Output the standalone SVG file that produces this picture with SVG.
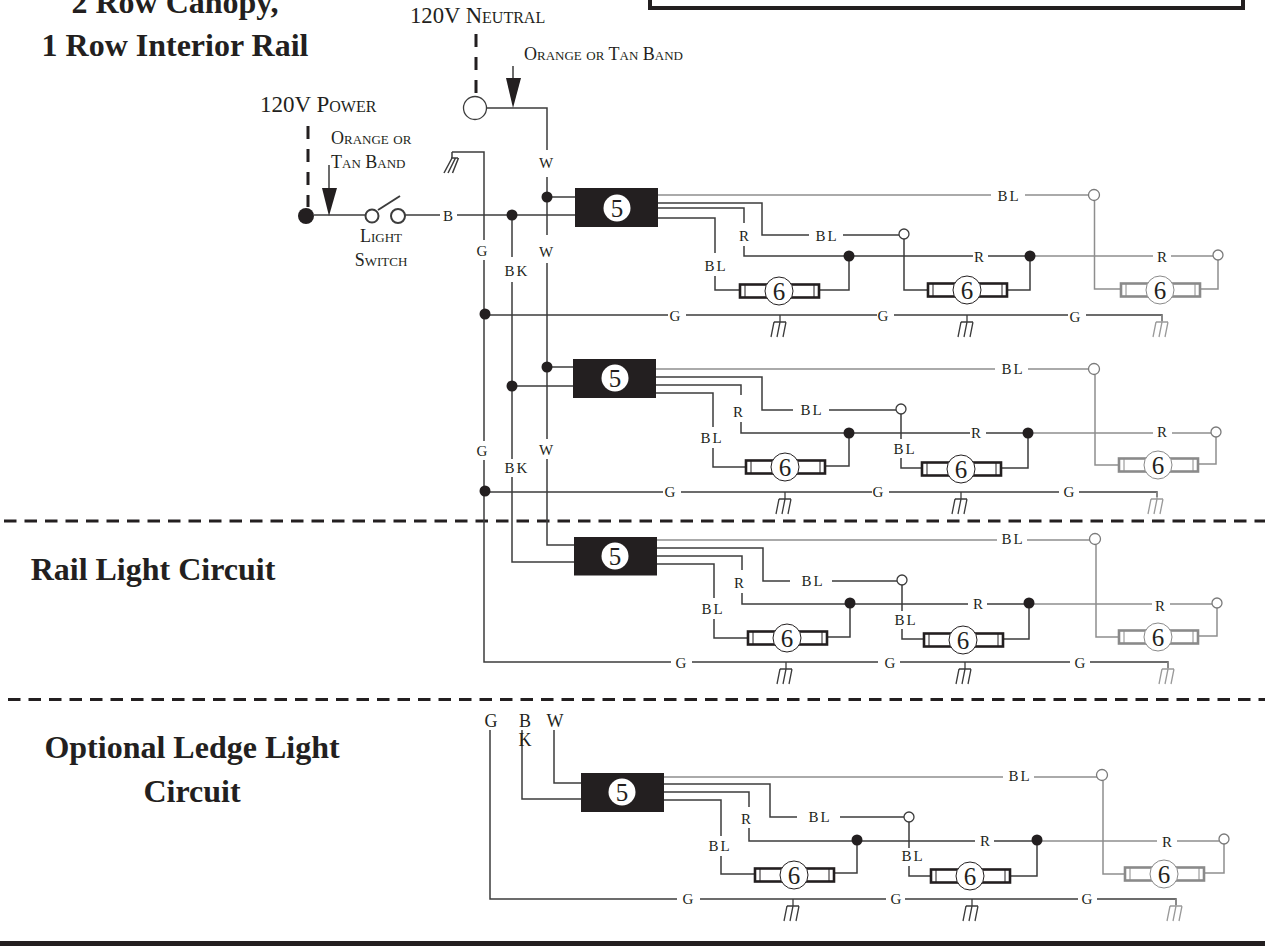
<svg xmlns="http://www.w3.org/2000/svg" width="1265" height="946" viewBox="0 0 1265 946">
<style>
text{font-family:"Liberation Serif","Times New Roman",serif;fill:#231f20}
.h{font-weight:bold;font-size:32px;text-anchor:middle}
.sc{font-variant:small-caps}
.l{font-size:15px;text-anchor:middle}
.ls{letter-spacing:2px}
.w{fill:none;stroke:#3c3c3c;stroke-width:1.5}
.g{fill:none;stroke:#8e8e8e;stroke-width:1.5}
.d{fill:#231f20}
.o{fill:#fff;stroke:#3c3c3c;stroke-width:1.3}
.og{fill:#fff;stroke:#7a7a7a;stroke-width:1.3}
.dash{fill:none;stroke:#231f20;stroke-width:3;stroke-dasharray:12.5 8}
.blk{fill:#231f20}
.n5{font-size:25px;text-anchor:middle}
.lamp{color:#231f20}
.lamp.gr{color:#8a8a8a}
.gnd{color:#3c3c3c}
.gnd.gr{color:#9a9a9a}
</style>
<defs>
<g id="lampF"><rect x="-39" y="-6.5" width="79" height="13" fill="#fff" stroke="currentColor" stroke-width="2.6"/><path fill="none" stroke="currentColor" stroke-width="1" d="M-34-7V7M35-7V7"/><circle cx="0" cy="0" r="14" fill="#fff" stroke="currentColor" stroke-width="1"/></g>
<g id="gs"><path fill="none" stroke="currentColor" stroke-width="1.3" d="M0 0V7M-6 7H6M-6 7L-9 22M0 7L-3 22M6 7L3 22"/></g>
</defs>

<g id="title-box"><rect x="650" y="-12" width="593" height="20" fill="none" stroke="#231f20" stroke-width="4"/></g>
<g id="headings">
<text class="h" x="175" y="13">2 Row Canopy,</text>
<text class="h" x="175" y="56">1 Row Interior Rail</text>
<text class="h" x="153" y="580">Rail Light Circuit</text>
<text class="h" x="192" y="758">Optional Ledge Light</text>
<text class="h" x="192" y="802">Circuit</text>
</g>
<g id="dividers">
<path class="dash" d="M4 521H1265"/>
<path class="dash" d="M8 699.500H1265"/>
<rect x="0" y="941" width="1265" height="5" fill="#231f20"/>
</g>

<g id="connectors">
<path class="dash" style="stroke-dasharray:13 10" d="M476 34V93M308 126V207"/>
<!-- supply -->
<path class="w" d="M487 108H547V150M547 177V235M547 263V439M547 459V545H574"/>
<path class="w" d="M314 215H366M405 215H440M457 215H575M547 197H575"/>
<path class="w" d="M512 215V257M512 282V459M512 477V562H574M512 386H573M547 367H573"/>
<path class="w" d="M452 152H484V240M484 260V441M484 460V662H671M692 662H878M900 662H1070M1090 662H1168V668"/>
<path class="w" d="M484 315H668M686 315H877M894 315H1068M1086 315H1162V321"/>
<path class="w" d="M484 492H663M681 492H872M889 492H1059M1079 492H1157V497"/>
<path class="w" d="M329 165V190M513 66V80"/>
<path class="w" style="stroke-width:2" d="M378 210L400 196"/>
<path class="w" d="M452 152V158M451 158H458M452 158L444 173M455.500 158L448 173M458.500 158L452.500 173"/>
<!-- row 1 -->
<path class="g" d="M658 195H991M1025 195H1089M1094.500 200V289H1120M1199 289H1218V260M1030 256H1153M1171 256H1213"/>
<path class="w" d="M658 203H762V235H809M843 235H899M904 239V290H927M1006 290H1030V256M658 208H744V223M744 246V256H973M988 256H1030M658 218H715V253M715 276V290H739M818 290H849V256"/>
<!-- row 2 -->
<path class="g" d="M656 369H995M1028 369H1089M1095 374V465H1118M1197 464H1216V437M1028 433H1153M1172 433H1211"/>
<path class="w" d="M656 377H762V410H793M829 410H896M901 414V439M901 458V468H922M1001 468H1028V433M656 385H741V395M741 422V433H970M986 433H1028M656 393H713V427M713 448V467H746M824 466H849V433"/>
<!-- row 3 -->
<path class="g" d="M657 540H997M1027 540H1090M1096 544V637H1118M1197 636H1217V608M1029 604H1152M1170 604H1212"/>
<path class="w" d="M657 548H763V581H790M832 581H897M902 585V611M902 629V639H923M1002 639H1029V604M657 556H742V570M742 593V604H968M987 604H1029M657 564H714V598M714 619V638H747M826 637H850V604"/>
<!-- row 4 -->
<path class="w" d="M490 730V899H677M700 899H886M905 899H1078M1097 899H1176V905M522 730V799H581M554 730V783H581"/>
<path class="g" d="M664 777H1003M1034 777H1097M1103 780V874H1124M1203 873H1224V844M1037 841H1157M1177 841H1219"/>
<path class="w" d="M664 784H770V817H797M840 817H904M909 822V848M909 866V876H931M1009 876H1037V841M664 792H749V807M749 828V841H975M994 841H1037M664 800H721V836M721 856V874H754M833 873H857V841"/>
<!-- junctions -->
<g class="d">
<circle cx="547" cy="197" r="5.500"/><circle cx="512" cy="215" r="5.500"/><circle cx="485" cy="314" r="5.500"/><circle cx="547" cy="367" r="5.500"/><circle cx="512" cy="386" r="5.500"/><circle cx="485" cy="491" r="5.500"/>
<circle cx="849" cy="256" r="5.500"/><circle cx="1030" cy="256" r="5.500"/><circle cx="849" cy="433" r="5.500"/><circle cx="1028" cy="433" r="5.500"/><circle cx="850" cy="603" r="5.500"/><circle cx="1029" cy="603" r="5.500"/><circle cx="857" cy="840" r="5.500"/><circle cx="1037" cy="840" r="5.500"/>
<circle cx="306" cy="216" r="8"/>
<path d="M322 188H337L329 216Z"/><path d="M506 78H521L513 108Z"/>
</g>
<circle class="o" cx="475" cy="108" r="11.500"/>
<circle class="o" cx="372" cy="216" r="6.500" style="stroke-width:2"/><circle class="o" cx="398" cy="216" r="7" style="stroke-width:2"/>
<circle class="o" cx="904" cy="234" r="5"/><circle class="o" cx="901" cy="409" r="5"/><circle class="o" cx="902" cy="580" r="5"/><circle class="o" cx="909" cy="817" r="5"/>
<circle class="og" cx="1094" cy="195" r="5.500"/><circle class="og" cx="1218" cy="255" r="5"/><circle class="og" cx="1094" cy="369" r="5.500"/><circle class="og" cx="1216" cy="432" r="5"/><circle class="og" cx="1095" cy="539" r="5.500"/><circle class="og" cx="1217" cy="603" r="5"/><circle class="og" cx="1102" cy="775" r="5.500"/><circle class="og" cx="1224" cy="839" r="5"/>
<!-- grounds -->
<use href="#gs" class="gnd" x="780" y="315"/><use href="#gs" class="gnd" x="967" y="315"/><use href="#gs" class="gnd gr" x="1162" y="315"/>
<use href="#gs" class="gnd" x="785" y="492"/><use href="#gs" class="gnd" x="961" y="492"/><use href="#gs" class="gnd gr" x="1157" y="492"/>
<use href="#gs" class="gnd" x="786" y="662"/><use href="#gs" class="gnd" x="965" y="662"/><use href="#gs" class="gnd gr" x="1168" y="662"/>
<use href="#gs" class="gnd" x="793" y="899"/><use href="#gs" class="gnd" x="972" y="899"/><use href="#gs" class="gnd gr" x="1176" y="899"/>
</g>

<g id="wire-labels">
<text class="sc" x="410" y="23" font-size="22.700">120V Neutral</text>
<text class="sc" x="524" y="60" font-size="18">Orange or Tan Band</text>
<text class="sc" x="260" y="112" font-size="23">120V Power</text>
<text class="sc" x="331" y="144" font-size="18">Orange or</text>
<text class="sc" x="331" y="168" font-size="18">Tan Band</text>
<text class="sc" x="381" y="242" font-size="18" text-anchor="middle">Light</text>
<text class="sc" x="381" y="266" font-size="18" text-anchor="middle">Switch</text>
<text class="l" x="448" y="221">B</text>
<text class="l" x="546" y="168">W</text><text class="l" x="546" y="257">W</text><text class="l" x="482" y="256">G</text><text class="l ls" x="517" y="276">BK</text>
<text class="l" x="546" y="455">W</text><text class="l" x="482" y="456">G</text><text class="l ls" x="517" y="473">BK</text>
<text class="l ls" x="1009" y="201">BL</text><text class="l ls" x="827" y="241">BL</text><text class="l" x="744" y="241">R</text><text class="l ls" x="716" y="271">BL</text><text class="l" x="979" y="262">R</text><text class="l" x="1162" y="262">R</text><text class="l" x="675" y="321">G</text><text class="l" x="883" y="321">G</text><text class="l" x="1075" y="322">G</text>
<text class="l ls" x="1013" y="374">BL</text><text class="l ls" x="812" y="415">BL</text><text class="l" x="738" y="417">R</text><text class="l ls" x="712" y="443">BL</text><text class="l" x="976" y="438">R</text><text class="l" x="1162" y="437">R</text><text class="l ls" x="905" y="454">BL</text><text class="l" x="670" y="497">G</text><text class="l" x="878" y="497">G</text><text class="l" x="1069" y="497">G</text>
<text class="l ls" x="1013" y="544">BL</text><text class="l ls" x="813" y="586">BL</text><text class="l" x="739" y="588">R</text><text class="l ls" x="713" y="614">BL</text><text class="l" x="978" y="609">R</text><text class="l" x="1160" y="611">R</text><text class="l ls" x="906" y="625">BL</text><text class="l" x="681" y="668">G</text><text class="l" x="890" y="668">G</text><text class="l" x="1080" y="668">G</text>
<text class="l" x="491" y="727" style="font-size:18px">G</text><text class="l" x="525" y="727" style="font-size:18px">B</text><text class="l" x="525" y="746" style="font-size:18px">K</text><text class="l" x="555" y="727" style="font-size:18px">W</text>
<text class="l ls" x="1020" y="781">BL</text><text class="l ls" x="820" y="822">BL</text><text class="l" x="746" y="824">R</text><text class="l ls" x="720" y="851">BL</text><text class="l" x="985" y="846">R</text><text class="l" x="1167" y="847">R</text><text class="l ls" x="913" y="861">BL</text><text class="l" x="688" y="904">G</text><text class="l" x="896" y="904">G</text><text class="l" x="1087" y="904">G</text>
</g>

<g id="ballast-1"><rect class="blk" x="575" y="188" width="83" height="39"/><circle cx="617" cy="208" r="13.500" fill="#fff"/><text class="n5" x="617" y="217">5</text></g>
<g id="ballast-2"><rect class="blk" x="573" y="359" width="83" height="39"/><circle cx="615" cy="378" r="13.500" fill="#fff"/><text class="n5" x="615" y="387">5</text></g>
<g id="ballast-3"><rect class="blk" x="574" y="537" width="83" height="38.500"/><circle cx="615" cy="556" r="13.500" fill="#fff"/><text class="n5" x="615" y="565">5</text></g>
<g id="ballast-4"><rect class="blk" x="581" y="773" width="83" height="39"/><circle cx="622" cy="792" r="13.500" fill="#fff"/><text class="n5" x="622" y="801">5</text></g>

<g id="lamp-1a" class="lamp" transform="translate(779 291)"><use href="#lampF"/><text class="n5" y="9">6</text></g>
<g id="lamp-1b" class="lamp" transform="translate(967 290)"><use href="#lampF"/><text class="n5" y="9">6</text></g>
<g id="lamp-1c" class="lamp gr" transform="translate(1160 290)"><use href="#lampF"/><text class="n5" y="9">6</text></g>
<g id="lamp-2a" class="lamp" transform="translate(785 467)"><use href="#lampF"/><text class="n5" y="9">6</text></g>
<g id="lamp-2b" class="lamp" transform="translate(961 469)"><use href="#lampF"/><text class="n5" y="9">6</text></g>
<g id="lamp-2c" class="lamp gr" transform="translate(1158 465)"><use href="#lampF"/><text class="n5" y="9">6</text></g>
<g id="lamp-3a" class="lamp" transform="translate(787 638)"><use href="#lampF"/><text class="n5" y="9">6</text></g>
<g id="lamp-3b" class="lamp" transform="translate(963 640)"><use href="#lampF"/><text class="n5" y="9">6</text></g>
<g id="lamp-3c" class="lamp gr" transform="translate(1158 637)"><use href="#lampF"/><text class="n5" y="9">6</text></g>
<g id="lamp-4a" class="lamp" transform="translate(794 875)"><use href="#lampF"/><text class="n5" y="9">6</text></g>
<g id="lamp-4b" class="lamp" transform="translate(970 876)"><use href="#lampF"/><text class="n5" y="9">6</text></g>
<g id="lamp-4c" class="lamp gr" transform="translate(1164 874)"><use href="#lampF"/><text class="n5" y="9">6</text></g>
</svg>
